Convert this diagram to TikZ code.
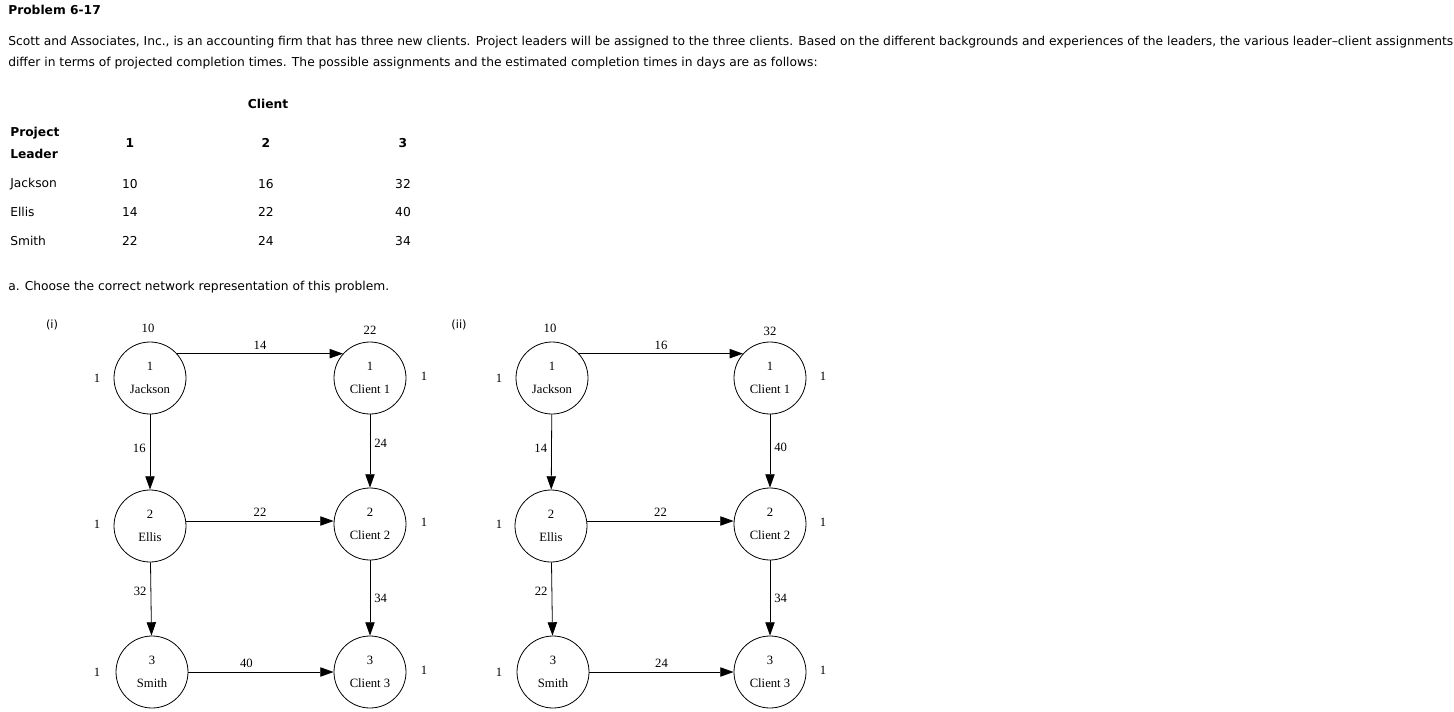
\documentclass[tikz,border=0pt]{standalone}
\usepackage{fontspec}
\setmainfont{DejaVu Sans}
\newfontfamily\serifnet{Liberation Serif}
\usetikzlibrary{arrows.meta}
\begin{document}
\begin{tikzpicture}[x=0.75pt,y=-0.75pt,
  txt/.style={font=\fontsize{9.2}{11}\selectfont,inner sep=0pt},
  btxt/.style={font=\fontsize{9.2}{11}\selectfont\bfseries,inner sep=0pt},
  net/.style={circle,draw,line width=0.6pt,minimum size=54pt,inner sep=0pt,align=center,font=\serifnet\fontsize{9.5}{17}\selectfont},
  lab/.style={font=\serifnet\fontsize{9.5}{11}\selectfont,inner sep=0pt},
  arr/.style={-{Triangle[length=10pt,width=7pt]},line width=0.6pt}]
\useasboundingbox (0,0) rectangle (1454,711);
\node[btxt,anchor=west] (title) at (8,10) {Problem 6-17};
\node[txt,anchor=west] (p1) at (8,42) {Scott and Associates, Inc., is an accounting firm that has three new clients. Project leaders will be assigned to the three clients. Based on the different backgrounds and experiences of the leaders, the various leader–client assignments};
\node[txt,anchor=west] (p2) at (8,63) {differ in terms of projected completion times. The possible assignments and the estimated completion times in days are as follows:};
% table
\node[btxt] (cl) at (268,104) {Client};
\node[btxt,anchor=west] (pl) at (10,133) {Project};
\node[btxt,anchor=west] (ld) at (10,154) {Leader};
\node[btxt] (h1) at (130,143) {1};
\node[btxt] (h2) at (266,143) {2};
\node[btxt] (h3) at (403,143) {3};
\node[txt,anchor=west] (r1) at (10,184) {Jackson};
\node[txt,anchor=west] (r2) at (10,212) {Ellis};
\node[txt,anchor=west] (r3) at (10,241) {Smith};
\node[txt] (v11) at (130,184) {10};
\node[txt] (v12) at (266,184) {16};
\node[txt] (v13) at (403,184) {32};
\node[txt] (v21) at (130,212) {14};
\node[txt] (v22) at (266,212) {22};
\node[txt] (v23) at (403,212) {40};
\node[txt] (v31) at (130,241) {22};
\node[txt] (v32) at (266,241) {24};
\node[txt] (v33) at (403,241) {34};
\node[txt,anchor=west] (qa) at (8,287) {a. Choose the correct network representation of this problem.};
\node[txt,font=\fontsize{8.5}{10}\selectfont] (ti) at (52,325) {(i)};
\node[txt,font=\fontsize{8.5}{10}\selectfont] (tii) at (459,325) {(ii)};
% network i
\node[net] (J) at (150,378) {1\\Jackson};
\node[net] (E) at (150,526) {2\\Ellis};
\node[net] (S) at (152,672) {3\\Smith};
\node[net] (C1) at (370,378) {1\\Client 1};
\node[net] (C2) at (370,524) {2\\Client 2};
\node[net] (C3) at (370,672) {3\\Client 3};
\node[lab] (a1) at (148,328) {10};
\node[lab] (a2) at (370,330) {22};
\node[lab] (a3) at (97,378) {1};
\node[lab] (a4) at (97,524) {1};
\node[lab] (a5) at (97,672) {1};
\node[lab] (a6) at (424,376) {1};
\node[lab] (a7) at (424,522) {1};
\node[lab] (a8) at (424,670) {1};
\draw[arr] (J.42) -- node[lab,above=3pt]{14} (C1.138);
\draw[arr] (E.east |- 0,521) -- node[lab,above=3pt]{22} (C2.west |- 0,521);
\draw[arr] (S.east) -- node[lab,above=3pt,pos=0.4]{40} (C3.west);
\draw[arr] (J) -- node[lab,left=3pt,pos=0.45]{16} (E);
\draw[arr] (E) -- node[lab,left=3pt,pos=0.4]{32} (S);
\draw[arr] (C1) -- node[lab,right=3pt,pos=0.4]{24} (C2);
\draw[arr] (C2) -- node[lab,right=3pt,pos=0.5]{34} (C3);
% network ii
\node[net] (J2) at (552,378) {1\\Jackson};
\node[net] (E2) at (551,526) {2\\Ellis};
\node[net] (S2) at (553,672) {3\\Smith};
\node[net] (D1) at (770,378) {1\\Client 1};
\node[net] (D2) at (770,524) {2\\Client 2};
\node[net] (D3) at (770,672) {3\\Client 3};
\node[lab] (b1) at (550,328) {10};
\node[lab] (b2) at (770,331) {32};
\node[lab] (b3) at (499,378) {1};
\node[lab] (b4) at (499,524) {1};
\node[lab] (b5) at (499,672) {1};
\node[lab] (b6) at (823,376) {1};
\node[lab] (b7) at (823,522) {1};
\node[lab] (b8) at (823,670) {1};
\draw[arr] (J2.42) -- node[lab,above=3pt]{16} (D1.138);
\draw[arr] (E2.east |- 0,521) -- node[lab,above=3pt]{22} (D2.west |- 0,521);
\draw[arr] (S2.east) -- node[lab,above=3pt]{24} (D3.west);
\draw[arr] (J2) -- node[lab,left=3pt,pos=0.45]{14} (E2);
\draw[arr] (E2) -- node[lab,left=3pt,pos=0.4]{22} (S2);
\draw[arr] (D1) -- node[lab,right=3pt,pos=0.45]{40} (D2);
\draw[arr] (D2) -- node[lab,right=3pt,pos=0.5]{34} (D3);
\end{tikzpicture}
\end{document}
